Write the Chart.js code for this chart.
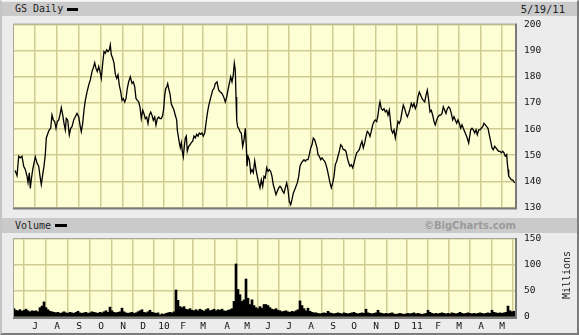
<!DOCTYPE html>
<html>
<head>
<meta charset="utf-8">
<script src="https://cdn.jsdelivr.net/npm/chart.js@4.4.0/dist/chart.umd.min.js"></script>
<style>
html, body { margin: 0; padding: 0; background: #ececec; }
#wrap { position: relative; width: 579px; height: 335px; overflow: hidden; background: #ececec;
  box-sizing: border-box; border-left: 2px solid #c4c4c4; border-top: 1px solid #f4f4f4;
  border-right: 2px solid #7c7c7c; border-bottom: 2px solid #7c7c7c;
  font-family: "DejaVu Sans Mono", monospace; color: #222; }
.strip { position: absolute; left: 0; width: 575px; background: #cacaca; }
.lbl { position: absolute; font-size: 10px; line-height: 14px; white-space: nowrap; }
.swatch { position: absolute; background: #000; height: 3px; }
canvas { position: absolute; left: -2px; }
#millions { position: absolute; left: 540px; top: 268px; width: 50px; text-align: center; font-size: 10px;
  transform: rotate(-90deg); transform-origin: 25px 6px; line-height: 12px; }
</style>
</head>
<body>
<div id="wrap">
  <div class="strip" style="top:1px;height:14px;">
    <span class="lbl" style="left:13px;top:0;">GS Daily</span>
    <span class="swatch" style="left:65px;top:6px;width:11px;"></span>
    <span class="lbl" style="right:12px;top:0;font-size:10.5px;">5/19/11</span>
  </div>
  <div class="strip" style="top:217px;height:15px;">
    <span class="lbl" style="left:13px;top:1px;">Volume</span>
    <span class="swatch" style="left:53px;top:6px;width:12px;"></span>
    <span class="lbl" style="right:61px;top:1px;font-family:'DejaVu Sans',sans-serif;font-weight:bold;color:#9a9a9a;">©BigCharts.com</span>
  </div>
  <canvas id="priceChart" width="579" height="200" style="top:15px;"></canvas>
  <canvas id="volumeChart" width="579" height="102" style="top:232px;"></canvas>
  <div id="millions">Millions</div>
</div>
<script>
// x unit = trading day since the first bar on the chart
const monthDays = [21, 43, 65, 87, 109, 129, 150, 169, 189, 213, 233, 254, 275, 297, 319, 340, 362, 383, 403, 424, 445, 467, 488];
const monthLabels = ['J', 'A', 'S', 'O', 'N', 'D', '10', 'F', 'M', 'A', 'M', 'J', 'J', 'A', 'S', 'O', 'N', 'D', '11', 'F', 'M', 'A', 'M'];
const priceTicks = [130, 140, 150, 160, 170, 180, 190, 200];
const volumeTicks = [0, 50, 100, 150];
const LAST_DAY = 501;

const priceDays = [
  1, 3, 4.7, 6.3, 8, 9.7, 11.3, 13, 14, 15.3,
  16.3, 17.3, 18.7, 20, 21.3, 23, 24.7, 26, 27.3, 28.7,
  30, 31.3, 32.3, 34, 35.3, 36.7, 38, 39.3, 40.7, 42,
  43.3, 44.7, 46, 47.3, 48.7, 50, 51.3, 52.3, 53.7, 55.3,
  56.7, 58, 59.7, 61.3, 63, 64.7, 66.3, 67.3, 68.7, 70,
  71.3, 73, 74.7, 76.3, 78, 79.7, 80.7, 82, 83.3, 84.7,
  86, 87.3, 88.7, 90, 91.3, 92.7, 94, 95.3, 96.3, 97.3,
  98.7, 100, 101.3, 102.7, 104, 105.3, 106.7, 108, 109.3, 110.7,
  112, 113.3, 114.7, 116.3, 118, 119.3, 120.7, 122, 123.3, 124.7,
  126, 127.3, 128.7, 130, 131.3, 132.7, 134, 135.3, 136.7, 138,
  139.3, 140.7, 142, 143.3, 144.7, 146, 147.3, 148.7, 149.7, 150.7,
  151.7, 152.7, 153.7, 154.7, 156, 157.3, 158.7, 160, 161.3, 162.7,
  163.3, 164.3, 165.3, 166.3, 167.3, 168.3, 169.3, 170.3, 171.3, 172.3,
  173.3, 174.7, 176, 177.3, 178.7, 180, 181.3, 182.7, 184, 185.3,
  186.7, 188, 189.3, 190.7, 192, 193.3, 194.7, 196, 197.3, 198.7,
  200, 201.3, 203, 204.7, 206.3, 208, 209.7, 211.3, 212.7, 214,
  215.3, 216.7, 218, 219.3, 220.3, 221.3, 222, 222.7, 223.7, 224.7,
  226, 227.3, 228.7, 230, 231.3, 232.3, 233, 234, 235.3, 236.7,
  238, 239.3, 240.7, 242, 243.3, 244.7, 246, 247.3, 248.7, 250,
  251.3, 252.7, 254, 255.3, 256.7, 258, 259.3, 260.7, 262, 263.3,
  264.7, 266, 267.3, 268.7, 270, 271.3, 272.7, 274, 275.3, 276.7,
  278, 279.3, 280.7, 282, 283.3, 284.7, 286, 287.3, 288.7, 290,
  291.3, 292.7, 294, 295.3, 296.7, 298, 299.3, 300.7, 303, 304,
  305.3, 306.7, 308, 309.3, 310.7, 312, 313.3, 314.7, 316, 317.3,
  318.7, 320, 321.3, 322.7, 324, 325.3, 326.7, 328, 329.3, 330.7,
  332, 333.3, 334.7, 336, 337.3, 338.7, 340, 341.3, 342.7, 344,
  345.3, 346.7, 348, 349.3, 350.7, 352, 353.3, 354.7, 356, 357.3,
  358.7, 360, 361.3, 362.7, 364, 365, 366, 367.3, 368.7, 370,
  371.3, 372.7, 374, 375.3, 376.3, 377.3, 378.7, 380, 381.3, 382.7,
  384, 385.3, 386.7, 388, 389.3, 390.7, 392, 393.3, 394.7, 396,
  397.3, 398.7, 400, 401.3, 402.7, 404, 405.3, 406.7, 408, 409.3,
  410.7, 412, 413.3, 414.7, 416, 417.3, 418.7, 420, 421.3, 422.7,
  424, 425.3, 426.7, 428, 429.3, 430.7, 432, 433.3, 434.7, 436,
  437.3, 438.7, 440, 441.3, 442.7, 444, 445.3, 446.7, 448, 449.3,
  450.7, 452, 453.3, 454.7, 455.7, 456.7, 458, 459.3, 460.7, 462,
  463.3, 464.7, 466, 467.3, 468.7, 470, 471.3, 472.7, 474, 475.3,
  476.7, 478, 479.3, 480.7, 482, 483.3, 484.7, 486, 487.3, 488.7,
  490, 491.3, 492.7, 493.3, 494, 494.7, 496, 497.3, 498.7, 500.7
];
const priceClose = [
  144.2, 142.2, 149.6, 149, 149.6, 145.8, 144.5, 142, 139.6, 143.3,
  137.3, 140.7, 144.5, 147, 149.4, 147, 145.8, 142, 138.8, 142.6,
  145.8, 150.2, 156.6, 158.5, 159.7, 160.3, 165.4, 163.5, 162.9, 160.3,
  162.9, 163.5, 165.4, 168.2, 165.4, 162.2, 159.7, 164.1, 163.5, 157.8,
  160.3, 160.9, 163.5, 164.7, 166, 164.7, 160.9, 159, 162.2, 167.3,
  171, 174.1, 176.8, 178.8, 182, 183.9, 185.4, 183.2, 182, 183.9,
  182, 179.4, 185.2, 189.6, 189, 190.3, 189.6, 190.3, 192.2, 188.4,
  187.1, 185.2, 181, 179.4, 180.7, 176.8, 174.3, 171, 171.7, 170.4,
  171.7, 175.6, 178.1, 180, 177.5, 178.1, 176.2, 171.7, 171, 170.4,
  168.4, 164, 167.2, 165.9, 164, 164.6, 162.1, 165.3, 166.5, 165.3,
  163.4, 164.6, 161.5, 164, 164.6, 164, 164, 165.3, 167.8, 172.9,
  175.5, 176.1, 177.4, 175.5, 173.5, 169.6, 168.4, 167.2, 165.3, 163.4,
  159.6, 157.3, 154.8, 152.9, 154.8, 151.5, 149.4, 153.4, 156.6, 157.3,
  151.5, 153.4, 154, 154.8, 155.4, 157.3, 156.6, 158, 157.3, 158.5,
  158, 158.5, 157.3, 158.5, 162.2, 165.9, 169, 171, 172.9, 174.9,
  175.5, 177.4, 178.1, 174.9, 174.2, 173.6, 172.3, 170.4, 172.3, 174.9,
  177.4, 180, 178.1, 180.7, 185.2, 182.6, 172.3, 163.4, 160.8, 160.3,
  159, 158.5, 153.4, 155.9, 160.3, 153.4, 145.8, 149.6, 148.3, 143.3,
  144.5, 143.3, 147.8, 144.5, 141.9, 139.4, 137.5, 140.6, 138.1, 141.9,
  141.3, 145.2, 143.8, 144.5, 143.8, 141.9, 138.7, 136.8, 134.9, 136.2,
  137.5, 138.1, 137.5, 136.2, 135.5, 137.5, 139.4, 136.8, 132.4, 131.1,
  133, 135.5, 136.8, 138.1, 139.4, 141.9, 145.8, 147, 147.7, 148.3,
  147.7, 148.3, 148.3, 150.2, 152.8, 154, 156.6, 155.9, 152.8, 150.2,
  149.6, 148.3, 149, 148.3, 147.7, 146.4, 144.5, 141.9, 139.4, 137.5,
  139.4, 141.9, 146.4, 147.7, 149.6, 151.5, 154, 153.4, 152.1, 152.1,
  151.5, 149, 147, 145.8, 146.4, 145.2, 147, 149, 150.9, 151.5,
  152.1, 154, 155.3, 152.8, 154.7, 157.2, 159.1, 158.5, 157.2, 159.1,
  161.6, 162.9, 163.5, 162.9, 165.3, 168.5, 170.4, 167.8, 167.2, 167.8,
  166.6, 167.2, 165.3, 167.2, 163.5, 159.7, 158.5, 159.7, 156.6, 159.7,
  162.9, 162.2, 163.5, 166.6, 169.2, 167.8, 166, 164.7, 166, 167.8,
  169.8, 168.5, 169.8, 167.8, 169.2, 172.3, 174.2, 172.9, 171.7, 171,
  170.4, 172.9, 174.9, 171, 166.6, 167.2, 165.3, 162.9, 161.6, 163.5,
  164.7, 165.3, 165.3, 166, 168.5, 167.2, 166, 167.8, 168.5, 167.8,
  166, 163.5, 164.7, 163.5, 162.2, 163.5, 162.2, 160.3, 161.6, 160.3,
  159, 157.8, 156.5, 154.7, 157.2, 159.7, 160.3, 159.7, 158.5, 159.7,
  157.8, 159.7, 159.7, 160.3, 160.9, 162.2, 161.6, 160.9, 160.3, 157.8,
  155.3, 152.8, 152.1, 153.4, 152.8, 152.1, 151.5, 151.5, 150.9, 151.5,
  150.9, 149.6, 150.2, 147, 144.5, 141.9, 141.3, 140.6, 140.6, 139.4
];

// volume in millions, one value every VOL_STEP trading days
const VOL_STEP = 2;
const volume = [
  16, 13, 12, 14, 11, 13, 15, 12, 10, 12, 11,
  12, 10, 18, 21, 29, 18, 14, 11, 10, 9,
  8, 9, 7, 8, 10, 8, 7, 9, 8, 7, 9, 11, 8, 7, 8, 9, 7, 8, 10, 9, 8, 7, 9, 8, 10, 12, 9,
  19, 12, 9, 8, 9, 10, 17, 10, 8, 7,
  8, 9, 7, 8, 10, 12, 14, 9, 8, 10, 13, 9, 8, 7, 8,
  4, 6, 5, 7, 8, 9, 8, 10,
  52, 32, 20, 18, 20, 15, 14, 16, 13, 12,
  14, 12, 15, 13, 11, 14, 16, 12, 13, 15, 12, 14, 13, 15, 12, 11, 13, 14, 16,
  30, 102, 53, 43, 30, 33, 73, 36, 24, 33, 22, 18, 16, 20, 17, 24, 24, 22, 18, 15,
  14, 16, 13, 12, 10, 11, 12, 10, 9, 11, 10, 12, 14,
  31, 22, 16, 12, 17, 11, 9, 8,
  8, 7, 6, 7, 8, 7, 11, 8, 7, 6, 7, 8, 7, 6, 8, 7, 6, 7, 8, 9, 7, 6, 7, 8, 7,
  15, 8, 7, 6, 7, 8, 13, 8, 7, 6,
  7, 6, 7, 8, 6, 5, 6, 7, 6, 5, 6, 7, 6, 7, 8, 6, 7, 6, 5, 6, 7,
  13, 9, 7, 6,
  7, 6, 7, 8, 7, 6, 7, 6, 8, 7, 6, 7, 9, 7, 6, 7, 8, 7, 6, 7, 6, 7, 8, 7, 6, 7, 8, 7,
  13, 9, 8, 7, 8, 7, 8, 9, 21, 12, 10, 11
];

const GRID = '#cfcb93';
const PLOT_BG = '#fefed4';
const TICK_FONT = { family: 'DejaVu Sans Mono', size: 9.5 };

const panel = {
  id: 'panel',
  beforeDraw(chart) {
    const { ctx, chartArea: a } = chart;
    ctx.save();
    ctx.fillStyle = PLOT_BG;
    ctx.fillRect(a.left, a.top, a.width, a.height);
    ctx.restore();
  },
  afterDraw(chart) {
    const { ctx, chartArea: a } = chart;
    ctx.save();
    ctx.strokeStyle = '#a8a8a0';
    ctx.lineWidth = 1;
    ctx.beginPath();
    ctx.moveTo(a.left - 0.5, a.bottom);
    ctx.lineTo(a.left - 0.5, a.top - 0.5);
    ctx.lineTo(a.right, a.top - 0.5);
    ctx.stroke();
    ctx.strokeStyle = '#7a7a7a';
    ctx.lineWidth = 2;
    ctx.beginPath();
    ctx.moveTo(a.left - 1, a.bottom + 1);
    ctx.lineTo(a.right + 1, a.bottom + 1);
    ctx.lineTo(a.right + 1, a.top - 1);
    ctx.stroke();
    ctx.restore();
  }
};

function xScale(showLabels) {
  return {
    type: 'linear', min: 0, max: LAST_DAY, offset: false,
    afterBuildTicks: s => { s.ticks = monthDays.map(v => ({ value: v })); },
    afterFit: s => { s.height = showLabels ? 16 : 0; },
    grid: { color: GRID, lineWidth: 1.5, drawTicks: false },
    border: { display: false },
    ticks: {
      display: showLabels, autoSkip: false, maxRotation: 0, padding: 4,
      color: '#111', font: TICK_FONT,
      callback: (v, i) => monthLabels[i]
    }
  };
}

// label gap comes from an invisible tick mark so it does not pad the plot top/bottom
function yScale(min, max, tickValues) {
  return {
    position: 'right', min: min, max: max,
    afterBuildTicks: s => { s.ticks = tickValues.map(v => ({ value: v })); },
    afterFit: s => { s.width = 64; },
    grid: { color: GRID, lineWidth: 1.5, drawTicks: true, tickLength: 9, tickColor: 'rgba(0,0,0,0)' },
    border: { display: false },
    ticks: { padding: 0, color: '#111', font: TICK_FONT }
  };
}

const common = {
  responsive: false,
  animation: false,
  plugins: { legend: { display: false }, tooltip: { enabled: false } }
};

new Chart(document.getElementById('priceChart'), {
  type: 'line',
  data: {
    datasets: [{
      data: priceDays.map((d, i) => ({ x: d, y: priceClose[i] })),
      borderColor: '#000', borderWidth: 1.3, pointRadius: 0, tension: 0
    }]
  },
  options: Object.assign({}, common, {
    layout: { padding: { left: 14, right: 0, top: 8.5, bottom: 8.5 } },
    scales: { x: xScale(false), y: yScale(130, 200, priceTicks) }
  }),
  plugins: [panel]
});

new Chart(document.getElementById('volumeChart'), {
  type: 'bar',
  data: {
    datasets: [{
      data: volume.map((v, i) => ({ x: i * VOL_STEP, y: v })),
      backgroundColor: '#000', borderWidth: 0,
      barPercentage: 1, categoryPercentage: 1
    }]
  },
  options: Object.assign({}, common, {
    layout: { padding: { left: 14, right: 0, top: 6, bottom: 2 } },
    scales: { x: xScale(true), y: yScale(0, 150, volumeTicks) }
  }),
  plugins: [panel]
});
</script>
</body>
</html>
